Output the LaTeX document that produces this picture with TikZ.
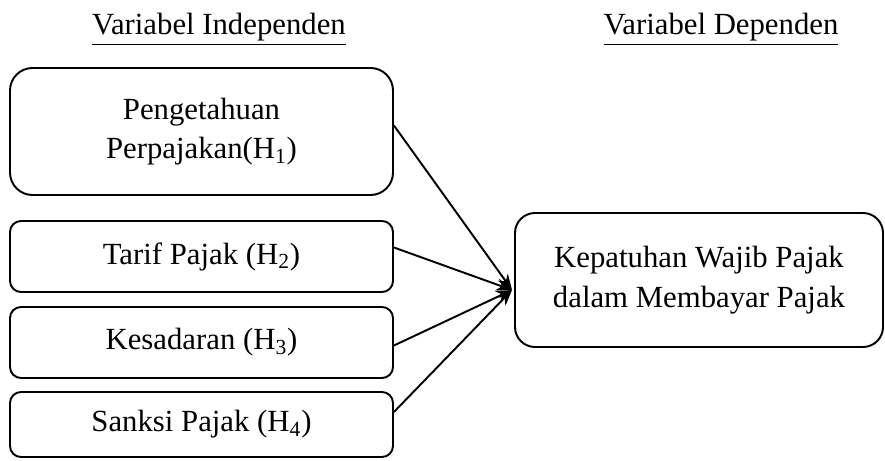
\documentclass[tikz,border=0pt]{standalone}
\usepackage{fontspec}
\setmainfont{Liberation Serif}
\usepackage{tikz}
\usetikzlibrary{arrows.meta,positioning,calc}

\begin{document}
\begin{tikzpicture}[font=\fontsize{17.5pt}{22.5pt}\selectfont,
  varbox/.style={draw,line width=1.1pt,rounded corners=0.22cm,align=center,
        minimum width=7.66cm,inner sep=0pt},
  link/.style={line width=1.1pt,-{Stealth[length=9pt,width=7pt]}}]
  \useasboundingbox (0,0) rectangle (17.7,-9.22);
  \node[anchor=base] (hi) at (4.38,-0.7) {\underline{Variabel Independen}};
  \node[anchor=base] (hd) at (14.42,-0.7) {\underline{Variabel Dependen}};

  \node[varbox,rounded corners=0.45cm,minimum height=2.54cm] (b1) at (4.03,-2.63)
       {Pengetahuan\\Perpajakan(H\textsubscript{1})};
  \node[varbox,minimum height=1.42cm] (b2) at (4.03,-5.13) {Tarif Pajak (H\textsubscript{2})};
  \node[varbox,minimum height=1.42cm] (b3) at (4.03,-6.85) {Kesadaran (H\textsubscript{3})};
  \node[varbox,minimum height=1.3cm] (b4) at (4.03,-8.49) {Sanksi Pajak (H\textsubscript{4})};

  \node[varbox,rounded corners=0.4cm,minimum width=7.36cm,minimum height=2.68cm] (dv) at (13.98,-5.6)
       {Kepatuhan Wajib Pajak\\dalam Membayar Pajak};
  \coordinate (tip) at ([xshift=-0.04cm,yshift=-0.2cm]dv.west);

  \draw[link] ([yshift=0.12cm]b1.east) -- (tip);
  \draw[link] ([yshift=0.18cm]b2.east) -- (tip);
  \draw[link] ([yshift=-0.06cm]b3.east) -- (tip);
  \draw[link] ([yshift=0.25cm]b4.east) -- (tip);
\end{tikzpicture}
\end{document}
